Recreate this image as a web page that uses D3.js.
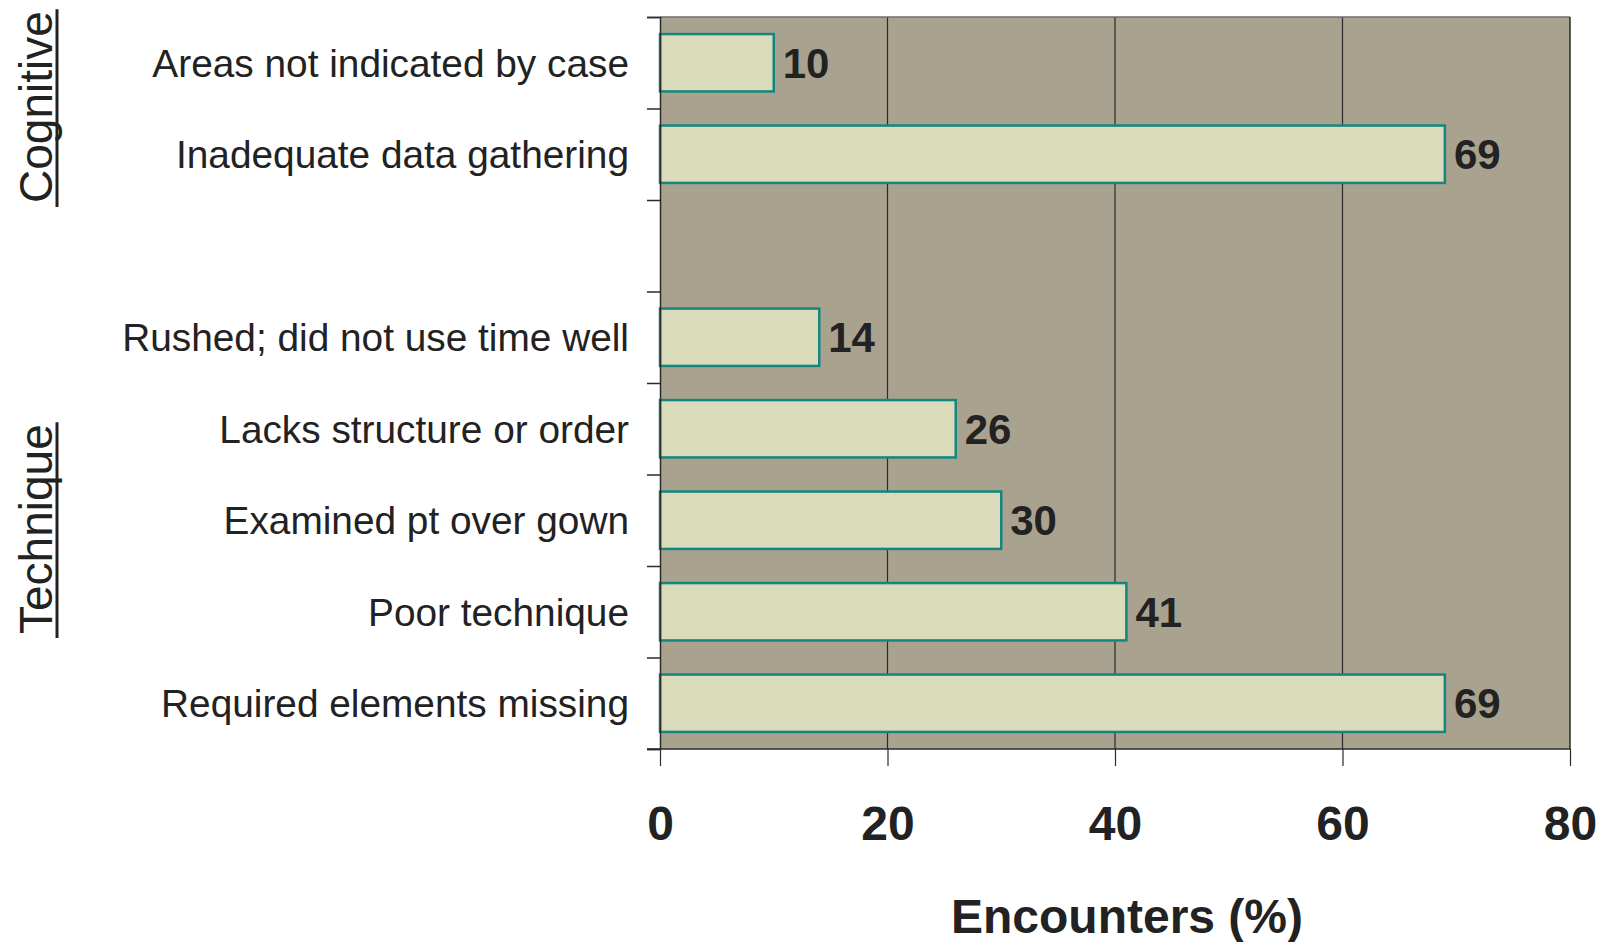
<!DOCTYPE html>
<html>
<head>
<meta charset="utf-8">
<script src="https://cdn.jsdelivr.net/npm/d3@7"></script>
<style>
  body { margin: 0; background: #fff; }
  svg { display: block; font-family: "Liberation Sans", Arial, sans-serif; }
</style>
</head>
<body>
<script>
(function() {

    var width = 1608,
        height = 942;

    // one slot per row; the empty string is the gap between the two groups
    var categories = [
        "Areas not indicated by case",
        "Inadequate data gathering",
        "",
        "Rushed; did not use time well",
        "Lacks structure or order",
        "Examined pt over gown",
        "Poor technique",
        "Required elements missing"
    ];
    var values = [10, 69, null, 14, 26, 30, 41, 69];

    var groupNames = ["Cognitive", "Technique"];
    var groupStarts = [203, 634];   // baseline start of the rotated group labels

    var xTicks = [0, 20, 40, 60, 80];
    var xTitle = "Encounters (%)";

    var left = 660, right = 1570, top = 17, bottom = 749;

    var rows = categories.map(function(c, i) { return { name: c, value: values[i], idx: i }; });

    var svg = d3.select("body")
        .append("svg")
        .attr("width", width)
        .attr("height", height);

    var x = d3.scaleLinear()
        .domain([0, 80])
        .range([left, right]);

    var y = d3.scaleBand()
        .domain(d3.range(categories.length))
        .range([top, bottom])
        .paddingInner(0.373)
        .paddingOuter(0.373 / 2);

    var slot = d3.scaleLinear()
        .domain([0, categories.length])
        .range([top, bottom]);

    // plot background
    svg.append("rect")
        .attr("x", left).attr("y", top)
        .attr("width", right - left).attr("height", bottom - top)
        .attr("fill", "#a9a28e");

    // vertical gridlines
    svg.append("g").selectAll("line")
        .data(xTicks.filter(function(d) { return d > 0 && d < 80; }))
        .enter()
        .append("line")
        .attr("x1", function(d) { return x(d); })
        .attr("x2", function(d) { return x(d); })
        .attr("y1", top).attr("y2", bottom)
        .attr("stroke", "#2a2a2a")
        .attr("stroke-width", 1.2);

    // top and right border
    svg.append("line")
        .attr("x1", left).attr("x2", right)
        .attr("y1", top).attr("y2", top)
        .attr("stroke", "#6e6e6e").attr("stroke-width", 1.5);
    svg.append("line")
        .attr("x1", right).attr("x2", right)
        .attr("y1", top).attr("y2", bottom)
        .attr("stroke", "#2a2a2a").attr("stroke-width", 1.5);

    // bars
    var bars = rows.filter(function(d) { return d.value !== null; });

    svg.append("g").selectAll("rect")
        .data(bars)
        .enter()
        .append("rect")
        .attr("x", x(0))
        .attr("y", function(d) { return y(d.idx); })
        .attr("width", function(d) { return x(d.value) - x(0); })
        .attr("height", y.bandwidth())
        .attr("fill", "#d9dbbb")
        .attr("stroke", "#148680")
        .attr("stroke-width", 2.5);

    // value labels
    svg.append("g").selectAll("text")
        .data(bars)
        .enter()
        .append("text")
        .attr("x", function(d) { return x(d.value) + 9; })
        .attr("y", function(d) { return y(d.idx) + y.bandwidth() / 2; })
        .attr("dy", "0.36em")
        .attr("font-size", 42)
        .attr("font-weight", "bold")
        .attr("fill", "#222")
        .text(function(d) { return d.value; });

    // y axis: boundary ticks only
    var yAxis = svg.append("g")
        .attr("transform", "translate(" + left + ",0)")
        .call(d3.axisLeft(slot).tickValues(d3.range(categories.length + 1)).tickSize(13).tickFormat(""));
    yAxis.selectAll("path, line").attr("stroke", "#2a2a2a").attr("stroke-width", 1.5);

    // category labels
    svg.append("g").selectAll("text")
        .data(rows.filter(function(d) { return d.name; }))
        .enter()
        .append("text")
        .attr("x", 629)
        .attr("y", function(d) { return y(d.idx) + y.bandwidth() / 2; })
        .attr("dy", "0.36em")
        .attr("text-anchor", "end")
        .attr("font-size", 38.8)
        .attr("fill", "#222")
        .text(function(d) { return d.name; });

    // x axis
    var xAxis = svg.append("g")
        .attr("transform", "translate(0," + bottom + ")")
        .call(d3.axisBottom(x).tickValues(xTicks).tickSize(17).tickPadding(40));
    xAxis.select(".domain").attr("d", "M" + (left - 13) + ",0H" + right).attr("stroke", "#2a2a2a").attr("stroke-width", 1.5);
    xAxis.selectAll(".tick line").attr("stroke", "#2a2a2a").attr("stroke-width", 1.2);
    xAxis.selectAll("text")
        .attr("font-size", 48)
        .attr("font-weight", "bold")
        .attr("font-family", "Liberation Sans, Arial, sans-serif")
        .attr("fill", "#222");

    svg.append("text")
        .attr("x", 1127)
        .attr("y", 933)
        .attr("text-anchor", "middle")
        .attr("font-size", 48)
        .attr("font-weight", "bold")
        .attr("fill", "#222")
        .text(xTitle);

    // rotated group labels with underline
    groupNames.forEach(function(name, i) {
        var g = svg.append("g")
            .attr("transform", "translate(52," + groupStarts[i] + ") rotate(-90)");
        var t = g.append("text")
            .attr("font-size", 46)
            .attr("font-weight", 300)
            .attr("fill", "#222")
            .text(name);
        var len = t.node().getComputedTextLength();
        g.append("line")
            .attr("x1", -4).attr("x2", len + 2)
            .attr("y1", 5).attr("y2", 5)
            .attr("stroke", "#222")
            .attr("stroke-width", 3);
    });
})();
</script>
</body>
</html>
